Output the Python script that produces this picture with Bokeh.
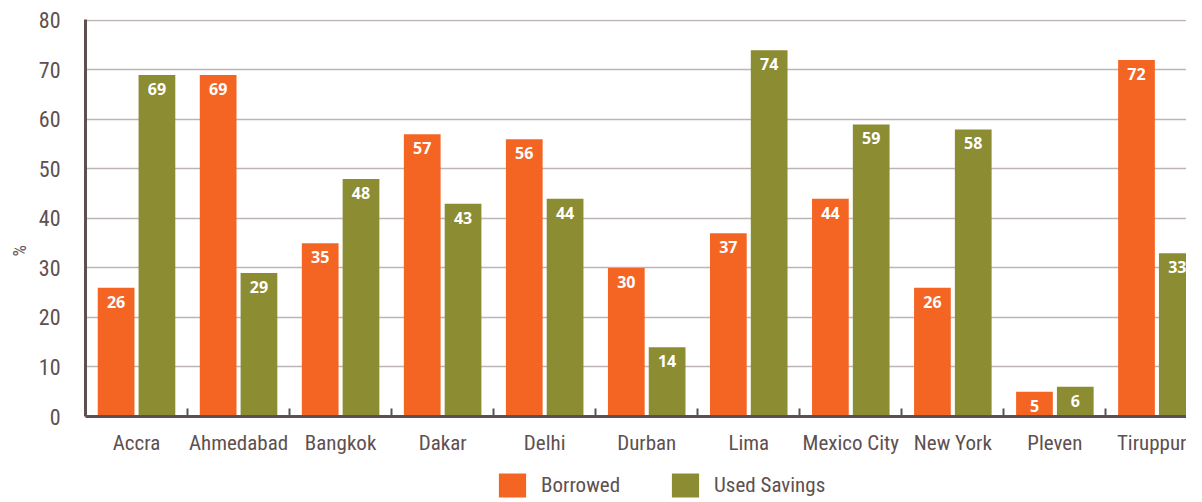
import numpy as np
from bokeh.plotting import figure
from bokeh.layouts import column
from bokeh.models import (ColumnDataSource, Range1d, FixedTicker, Legend, LegendItem,
                          Title)
from bokeh.transform import dodge
from bokeh.core.properties import value
from bokeh.embed import file_html
from bokeh.resources import INLINE

cities = ["Accra", "Ahmedabad", "Bangkok", "Dakar", "Delhi", "Durban",
          "Lima", "Mexico City", "New York", "Pleven", "Tiruppur"]
borrowed = [26, 69, 35, 57, 56, 30, 37, 44, 26, 5, 72]
used_savings = [69, 29, 48, 43, 44, 14, 74, 59, 58, 6, 33]
y_ticks = [0, 10, 20, 30, 40, 50, 60, 70, 80]
series_names = ["Borrowed", "Used Savings"]
y_title = "%"

ORANGE = "#F46523"
OLIVE = "#8C8C33"
TEXT = "#5E5050"
AXIS = "#5E5050"
GRID = "#BDB5B5"
LABEL_FONT = "Roboto Condensed"

n = len(cities)
centers = list(np.arange(n) + 0.5)
bounds = list(np.arange(1, n))

src = ColumnDataSource(dict(
    x=centers,
    borrowed=borrowed,
    saved=used_savings,
    borrowed_t=[str(v) for v in borrowed],
    saved_t=[str(v) for v in used_savings],
))

W = 1186
p = figure(width=W, height=464, output_backend="svg", toolbar_location=None,
           x_range=Range1d(0, 10.79), y_range=Range1d(0, 80.2),
           min_border_left=77, min_border_right=0, min_border_top=19,
           min_border_bottom=48)
p.outline_line_color = None
p.background_fill_color = "white"
p.border_fill_color = "white"

p.vbar(x=dodge("x", -0.2, range=p.x_range), top="borrowed", width=0.36,
       source=src, fill_color=ORANGE, line_color=None)
p.vbar(x=dodge("x", 0.2, range=p.x_range), top="saved", width=0.36,
       source=src, fill_color=OLIVE, line_color=None)

for col, off in (("borrowed", -0.2), ("saved", 0.2)):
    p.text(x=dodge("x", off, range=p.x_range), y=col, text=col + "_t", source=src,
           text_align="center", text_baseline="top", y_offset=8,
           text_color="white", text_font=value("Open Sans"),
           text_font_style="bold", text_font_size="16px")

# x axis
xa = p.xaxis[0]
xa.ticker = FixedTicker(ticks=centers, minor_ticks=bounds)
xa.major_label_overrides = {float(c): name for c, name in zip(centers, cities)}
xa.major_tick_line_color = None
xa.minor_tick_line_color = AXIS
xa.minor_tick_line_width = 2
xa.minor_tick_in = 8
xa.minor_tick_out = 0
xa.axis_line_color = AXIS
xa.axis_line_width = 3
xa.major_label_text_font = LABEL_FONT
xa.major_label_text_font_size = "21px"
xa.major_label_text_color = TEXT
xa.major_label_standoff = 8

# y axis (tick labels)
ya = p.yaxis[0]
ya.ticker = FixedTicker(ticks=y_ticks)
ya.major_tick_line_color = None
ya.minor_tick_line_color = None
ya.axis_line_color = AXIS
ya.axis_line_width = 3
ya.major_label_text_font = LABEL_FONT
ya.major_label_text_font_size = "22px"
ya.major_label_text_color = TEXT
ya.major_label_standoff = 19

# "%" title on the left, a little below the middle of the axis
p.add_layout(Title(text=y_title, align="left", offset=160, standoff=12,
                   text_font=LABEL_FONT, text_font_size="18px",
                   text_font_style="normal", text_color=TEXT), "left")

p.xgrid.grid_line_color = None
p.ygrid.ticker = FixedTicker(ticks=y_ticks)
p.ygrid.grid_line_color = GRID
p.ygrid.grid_line_width = 1.5

# legend strip below the chart (its frame is aligned with the chart's frame)
lg = figure(width=W, height=36, output_backend="svg", toolbar_location=None,
            x_range=Range1d(0, 1), y_range=Range1d(0, 1),
            x_axis_location=None, y_axis_location=None,
            min_border_left=77, min_border_right=0, min_border_top=0,
            min_border_bottom=0)
lg.outline_line_color = None
lg.xgrid.grid_line_color = None
lg.ygrid.grid_line_color = None
k1 = lg.vbar(x="x", top="borrowed", width=0.1, source=src,
             fill_color=ORANGE, line_color=None, visible=False)
k2 = lg.vbar(x="x", top="saved", width=0.1, source=src,
             fill_color=OLIVE, line_color=None, visible=False)
legend = Legend(items=[LegendItem(label=series_names[0], renderers=[k1]),
                       LegendItem(label=series_names[1], renderers=[k2])],
                location=(410, 0), orientation="horizontal",
                glyph_width=34, glyph_height=30, label_height=30,
                label_standoff=12, spacing=48, padding=0, margin=0,
                border_line_color=None, background_fill_alpha=0,
                label_text_font=LABEL_FONT, label_text_font_size="21px",
                label_text_color=TEXT)
lg.add_layout(legend, "center")

layout = column(p, lg, spacing=0)
open("out.html", "w").write(file_html(layout, INLINE))
